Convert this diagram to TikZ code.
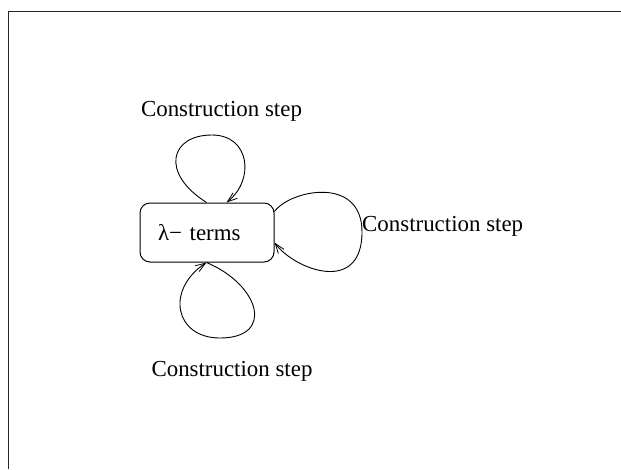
\documentclass[tikz,border=0pt]{standalone}
\usepackage{fontspec}
\setmainfont{Liberation Serif}
\usetikzlibrary{arrows.meta,calc}
\tikzset{
  statebox/.style={draw, line width=1pt, rounded corners=10pt, minimum width=134pt, minimum height=59pt, inner sep=0pt, text width=98pt, align=left},
  looparrow/.style={draw, line width=0.9pt, -{Straight Barb[length=10pt,width=7pt,line width=0.8pt]}},
  lbl/.style={inner sep=0pt, anchor=base},
  frameline/.style={draw, line width=1pt, black!85}
}
\begin{document}
\begin{tikzpicture}[x=1pt,y=-1pt]
\useasboundingbox (0,0) rectangle (621,469);
\fontsize{22.9}{27}\selectfont
\draw[frameline] (8,469) -- (8,11) -- (621,11);
\node[statebox] (lt) at (207,232.5) {λ− terms};
\node[lbl] (l1) at (221.5,116) {Construction step};
\node[lbl, anchor=base west] (l2) at (362,231) {Construction step};
\node[lbl] (l3) at (232,376) {Construction step};
% top loop
\draw[looparrow] ($(lt.north west)+(67,0)$) .. controls (160,173) and (170,135) .. (212,135)
  .. controls (250,135) and (255,180) .. ($(lt.north west)+(87,0)$);
% right loop
\draw[looparrow] ($(lt.north east)+(0,9)$) .. controls (290,190) and (362,175) .. (362,232)
  .. controls (362,295) and (295,270) .. ($(lt.north east)+(0,40)$);
% bottom loop
\draw[looparrow] ($(lt.south west)+(67,0)$) .. controls (260,285) and (275,338) .. (220,338)
  .. controls (175,338) and (165,290) .. ($(lt.south west)+(67,0)$);
\end{tikzpicture}
\end{document}
